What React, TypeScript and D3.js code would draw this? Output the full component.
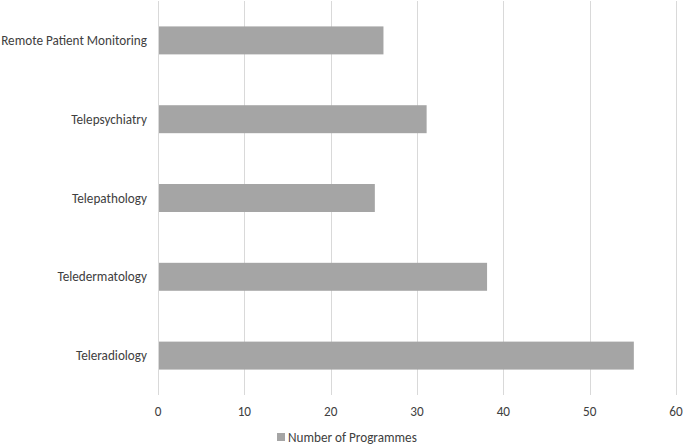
import React, { useEffect, useRef } from 'react';
import * as d3 from 'd3';

// data
const categories = [
  'Remote Patient Monitoring',
  'Telepsychiatry',
  'Telepathology',
  'Teledermatology',
  'Teleradiology',
];
const programmes = [26, 31, 25, 38, 55];
const xTicks = [0, 10, 20, 30, 40, 50, 60];
const seriesName = 'Number of Programmes';

const W = 685;
const H = 447;
const margin = { top: 1, right: 9, bottom: 52, left: 158 };
const FONT = "Carlito, 'Open Sans', 'Liberation Sans', sans-serif";
const FS = 13.2;

const App = () => {
  const svgRef = useRef<SVGSVGElement>(null);

  useEffect(() => {
    const svg = d3.select(svgRef.current);
    svg.selectAll('*').remove();

    const innerW = W - margin.left - margin.right;
    const innerH = H - margin.top - margin.bottom;

    const x = d3.scaleLinear().domain([0, 60]).range([0, innerW]);
    const y = d3.scaleBand()
      .domain(categories)
      .range([0, innerH])
      .paddingInner(0.645)
      .paddingOuter(0.3225);

    const g = svg.append('g')
      .attr('transform', `translate(${margin.left}, ${margin.top})`);

    // gridlines
    g.selectAll('.grid')
      .data(xTicks)
      .enter()
      .append('line')
      .attr('x1', d => Math.round(x(d)) + 0.5)
      .attr('x2', d => Math.round(x(d)) + 0.5)
      .attr('y1', 0)
      .attr('y2', innerH)
      .attr('stroke', '#d9d9d9')
      .attr('stroke-width', 1);

    // bars
    g.selectAll('.bar')
      .data(categories)
      .enter()
      .append('rect')
      .attr('x', x(0) + 1)
      .attr('y', d => y(d)!)
      .attr('width', (d, i) => x(programmes[i]) - x(0))
      .attr('height', y.bandwidth())
      .attr('fill', '#a5a5a5');

    // x tick labels
    g.selectAll('.xlab')
      .data(xTicks)
      .enter()
      .append('text')
      .attr('x', d => x(d))
      .attr('y', innerH + 21)
      .attr('text-anchor', 'middle')
      .attr('font-family', FONT)
      .attr('font-size', FS)
      .attr('fill', '#404040')
      .text(d => d);

    // category labels
    g.selectAll('.ylab')
      .data(categories)
      .enter()
      .append('text')
      .attr('x', -11)
      .attr('y', d => y(d)! + y.bandwidth() / 2)
      .attr('dy', '0.35em')
      .attr('text-anchor', 'end')
      .attr('font-family', FONT)
      .attr('font-size', FS)
      .attr('fill', '#404040')
      .text(d => d);

    // legend
    const legend = svg.append('g').attr('transform', 'translate(277, 433)');
    legend.append('rect')
      .attr('width', 8)
      .attr('height', 8)
      .attr('fill', '#a5a5a5');
    legend.append('text')
      .attr('x', 11)
      .attr('y', 4)
      .attr('dy', '0.35em')
      .attr('font-family', FONT)
      .attr('font-size', FS)
      .attr('fill', '#404040')
      .text(seriesName);
  }, []);

  return <svg ref={svgRef} width={W} height={H} style={{ display: 'block', position: 'absolute', left: 0, top: 0, background: '#fff' }} />;
};

export default App;
